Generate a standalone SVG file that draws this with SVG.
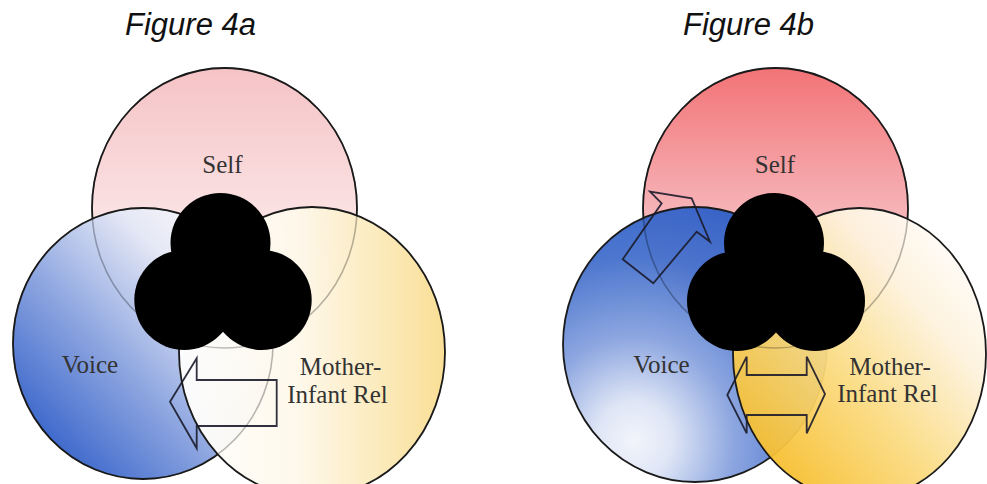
<svg xmlns="http://www.w3.org/2000/svg" width="987" height="484" viewBox="0 0 987 484">
  <style>
    .ring { stroke: #1a1a1a; stroke-width: 1.8; }
    .over { fill-opacity: 0.95; }
    .ghost { fill: none; stroke: #1a1a1a; stroke-width: 1.5; stroke-opacity: 0.28; }
    .core { fill: #000; }
    .lbl { font-family: "Liberation Serif", "Times New Roman", serif; font-size: 25px; fill: #333; text-anchor: middle; }
    .head { font-family: "Liberation Sans", Arial, sans-serif; font-size: 31px; font-style: italic; fill: #111; }
    .arrow { fill: none; stroke: #1b1b2a; stroke-width: 1.8; stroke-linejoin: miter; stroke-opacity: 0.9; }
  </style>
  <defs>
    <linearGradient id="selfA" x1="0" y1="0" x2="0" y2="1">
      <stop offset="0" stop-color="#f5c3c6"/>
      <stop offset="0.55" stop-color="#fbe3e4"/>
      <stop offset="1" stop-color="#ffffff"/>
    </linearGradient>
    <linearGradient id="voiceA" x1="0.1" y1="0.9" x2="0.85" y2="0.15">
      <stop offset="0" stop-color="#2858c6"/>
      <stop offset="0.45" stop-color="#8ea6e0"/>
      <stop offset="0.8" stop-color="#e4e8f6"/>
      <stop offset="1" stop-color="#f6f6fb"/>
    </linearGradient>
    <linearGradient id="motherA" x1="0" y1="0" x2="1" y2="0">
      <stop offset="0" stop-color="#ffffff"/>
      <stop offset="0.45" stop-color="#fef8ea"/>
      <stop offset="1" stop-color="#f9dd90"/>
    </linearGradient>
    <linearGradient id="selfB" x1="0" y1="0" x2="0" y2="1">
      <stop offset="0" stop-color="#f27376"/>
      <stop offset="0.5" stop-color="#f6b2b6"/>
      <stop offset="1" stop-color="#fbe4e6"/>
    </linearGradient>
    <radialGradient id="voiceB" cx="0.27" cy="0.85" r="0.95" fx="0.27" fy="0.85">
      <stop offset="0" stop-color="#f2f4fb"/>
      <stop offset="0.15" stop-color="#dde4f5"/>
      <stop offset="0.4" stop-color="#86a1de"/>
      <stop offset="0.7" stop-color="#4470cc"/>
      <stop offset="1" stop-color="#2a5cc8"/>
    </radialGradient>
    <linearGradient id="motherB" x1="0.1" y1="0.9" x2="0.85" y2="0.15">
      <stop offset="0" stop-color="#f6bb24"/>
      <stop offset="0.45" stop-color="#fbdc84"/>
      <stop offset="0.8" stop-color="#fdf2dc"/>
      <stop offset="1" stop-color="#fffaf4"/>
    </linearGradient>
  </defs>

  <rect width="987" height="484" fill="#ffffff"/>

  <text class="head" x="125" y="35">Figure 4a</text>
  <text class="head" x="683" y="35">Figure 4b</text>

  <!-- Figure 4a -->
  <g id="a-self">
    <ellipse class="ring" cx="224.5" cy="208" rx="132.5" ry="140" fill="url(#selfA)"/>
  </g>
  <g id="a-voice">
    <ellipse class="ring over" cx="143" cy="343.5" rx="130" ry="135.5" fill="url(#voiceA)"/>
  </g>
  <g id="a-mother">
    <ellipse class="ring over" cx="312" cy="352" rx="133" ry="145" fill="url(#motherA)"/>
  </g>
  <g id="a-hidden-edges">
    <ellipse class="ghost" cx="224.5" cy="208" rx="132.5" ry="140"/>
    <ellipse class="ghost" cx="143" cy="343.5" rx="130" ry="135.5"/>
  </g>
  <g id="a-core">
    <circle class="core" cx="220.5" cy="243" r="50"/>
    <circle class="core" cx="184.3" cy="300" r="50"/>
    <circle class="core" cx="261.7" cy="300" r="50"/>
  </g>
  <g id="a-connectors">
    <polygon class="arrow" points="196.7,358.3 196.7,380 276.7,380 276.7,426 196.7,426 196.7,448.3 170,401.7"/>
  </g>
  <g id="a-labels">
    <text class="lbl" x="222.5" y="173">Self</text>
    <text class="lbl" x="90" y="373">Voice</text>
    <text class="lbl" x="340.5" y="375">Mother-</text>
    <text class="lbl" x="337.5" y="403">Infant Rel</text>
  </g>

  <!-- Figure 4b -->
  <g id="b-self">
    <ellipse class="ring" cx="775.5" cy="208" rx="132.5" ry="140" fill="url(#selfB)"/>
  </g>
  <g id="b-voice">
    <ellipse class="ring over" cx="695" cy="344.5" rx="132" ry="137.5" fill="url(#voiceB)"/>
  </g>
  <g id="b-mother">
    <ellipse class="ring over" cx="859.5" cy="354" rx="126.5" ry="146" fill="url(#motherB)"/>
  </g>
  <g id="b-hidden-edges">
    <ellipse class="ghost" cx="775.5" cy="208" rx="132.5" ry="140"/>
  </g>
  <g id="b-core">
    <circle class="core" cx="774" cy="243" r="50"/>
    <circle class="core" cx="737" cy="301" r="50"/>
    <circle class="core" cx="815" cy="301" r="50"/>
  </g>
  <g id="b-connectors">
    <polygon class="arrow" points="622.7,259.3 653.3,283.3 696.7,231.7 710,241.7 691.7,198.3 650,191.7 661.7,203.3"/>
    <polygon class="arrow" points="727.3,395 746.7,356.7 746.7,375 806.7,375 806.7,356.7 825,394 806.7,433.3 806.7,415 746.7,415 746.7,433.3"/>
  </g>
  <g id="b-labels">
    <text class="lbl" x="775" y="173">Self</text>
    <text class="lbl" x="661.5" y="373">Voice</text>
    <text class="lbl" x="890" y="375">Mother-</text>
    <text class="lbl" x="887.5" y="402">Infant Rel</text>
  </g>
</svg>
